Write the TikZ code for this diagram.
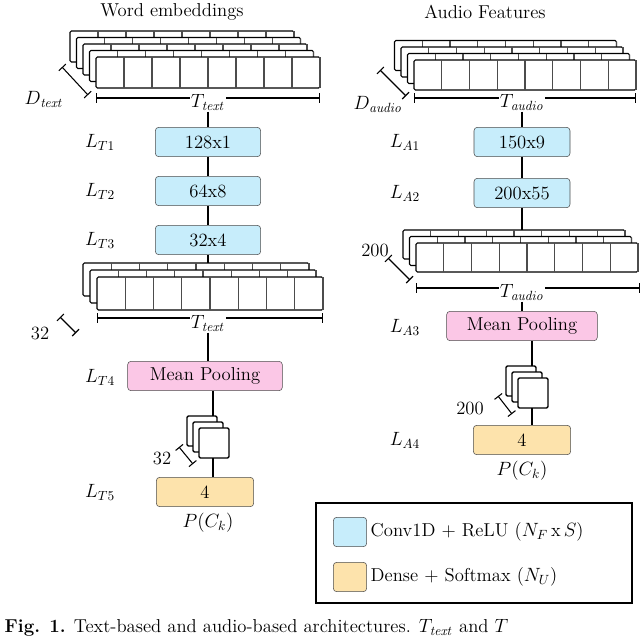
\documentclass[tikz,border=0pt]{standalone}
\usepackage{amsmath}
\begin{document}
\begin{tikzpicture}[x=0.75pt,y=-0.75pt,
  every node/.style={font=\fontsize{14}{16}\selectfont},
  blk/.style={draw=black!70,rounded corners=2.5pt,minimum height=22pt,inner sep=0pt},
  conv/.style={blk,fill=cyan!22},
  dense/.style={blk,fill=yellow!35!orange!30},
  pool/.style={blk,fill=magenta!22},
  cell/.style={draw,thick,fill=white,rounded corners=1pt},
  conn/.style={line width=0.8pt}]
\useasboundingbox (0,0) rectangle (640,636);
\clip (0,0) rectangle (640,636);
\newcommand\mystack[7]{%
  \foreach \k in {#5,...,0}{%
    \pgfmathsetmacro\ox{#1-\k*#6}\pgfmathsetmacro\oy{#2-\k*#6}%
    \draw[cell] (\ox,\oy) rectangle ++(#3,#4);
    \foreach \c in {1,...,#7}{\draw[thick,black!70] (\ox+\c*#3/#7,\oy) -- ++(0,#4);}
  }}
\newcommand\mysq[4]{%
  \foreach \k in {2,1,0}{%
    \draw[cell,line width=1.1pt] (#1-\k*#4,#2-\k*#4) rectangle ++(#3,#3);}}
% ---------- LEFT ----------
\node at (172,12) {Word embeddings};
\mystack{96}{57}{224}{31}{4}{6.5}{8}
\draw[|-|,thick] (62,67) -- (88,95);
\node at (44,99) {$D_{\mathit{text}}$};
\draw[|-|,thick] (96,98) -- (320,98);
\node[fill=white,inner sep=1pt] (tt1) at (208,102) {$T_{\mathit{text}}$};
\node[conv,minimum width=79pt] (t1) at (208,142) {128x1};
\node[conv,minimum width=79pt] (t2) at (208,191) {64x8};
\node[conv,minimum width=79pt] (t3) at (208,240) {32x4};
\node at (100,142) {$L_{T1}$};
\node at (100,191) {$L_{T2}$};
\node at (100,240) {$L_{T3}$};
\draw[conn] (tt1) -- (t1); \draw[conn] (t1) -- (t2); \draw[conn] (t2) -- (t3);
\coordinate (s2top) at (208,264);
\draw[conn] (t3) -- (s2top);
\mystack{97}{277}{226}{33}{2}{7}{8}
\draw[|-|,thick] (60,317) -- (76,333);
\node at (40,333) {32};
\draw[|-|,thick] (97,318) -- (323,318);
\node[fill=white,inner sep=1pt] (tt2) at (208,323) {$T_{\mathit{text}}$};
\node at (100,377) {$L_{T4}$};
\node[pool,minimum width=116pt] (mp1) at (205,376) {Mean Pooling};
\draw[conn] (tt2) -- (tt2 |- mp1.north);
\coordinate (sq1) at (213,428);
\draw[conn] (mp1.south -| sq1) -- (sq1);
\mysq{199}{428}{30}{6}
\draw[|-|,thick] (179,447) -- (193,464);
\node at (162,458) {32};
\node[dense,minimum width=73pt] (d1) at (205,492) {4};
\draw[conn] (213,458) -- (d1.north -| sq1);
\node at (100,492) {$L_{T5}$};
\node at (208,523) {$P(C_k)$};
% ---------- RIGHT ----------
\node at (485,12) {Audio Features};
\mystack{414}{60}{222}{30}{3}{6.5}{8}
\draw[|-|,thick] (380,70) -- (406,96);
\node at (378,104) {$D_{\mathit{audio}}$};
\draw[|-|,thick] (414,98) -- (636,98);
\node[fill=white,inner sep=1pt] (ta1) at (522,102) {$T_{\mathit{audio}}$};
\node[conv,minimum width=72pt] (a1) at (522,142) {150x9};
\node[conv,minimum width=72pt] (a2) at (522,193) {200x55};
\node at (405,142) {$L_{A1}$};
\node at (405,193) {$L_{A2}$};
\draw[conn] (ta1) -- (a1); \draw[conn] (a1) -- (a2);
\coordinate (s4top) at (522,230);
\draw[conn] (a2) -- (s4top);
\mystack{416}{243}{222}{29}{2}{6.5}{8}
\draw[|-|,thick] (388,258) -- (410,280);
\node at (375,250) {200};
\draw[|-|,thick] (416,288) -- (640,288);
\node[fill=white,inner sep=1pt] (ta2) at (522,292) {$T_{\mathit{audio}}$};
\node at (405,327) {$L_{A3}$};
\node[pool,minimum width=113pt] (mp2) at (522,326) {Mean Pooling};
\draw[conn] (ta2) -- (mp2);
\coordinate (sq2) at (532,378);
\draw[conn] (mp2.south -| sq2) -- (sq2);
\mysq{518}{378}{30}{6}
\draw[|-|,thick] (498,396) -- (512,414);
\node at (470,408) {200};
\node[dense,minimum width=73pt] (d2) at (522,440) {4};
\draw[conn] (532,408) -- (d2.north -| sq2);
\node at (405,440) {$L_{A4}$};
\node at (522,471) {$P(C_k)$};
% legend
\node[draw,line width=1.2pt,minimum width=237pt,minimum height=75pt,inner sep=0pt] (leg) at (474,553) {};
\node[conv,minimum width=25pt,minimum height=22pt] (lc) at (350,532) {};
\node[anchor=west] at (366,532) {Conv1D + ReLU ($N_F$\,x\,$S$)};
\node[dense,minimum width=25pt,minimum height=22pt] (ld) at (350,577) {};
\node[anchor=west] at (366,577) {Dense + Softmax ($N_U$)};
% caption
\node[anchor=west] at (0,628) {\textbf{Fig. 1.} Text-based and audio-based architectures. $T_{\mathit{text}}$ and $T$};
\end{tikzpicture}
\end{document}
